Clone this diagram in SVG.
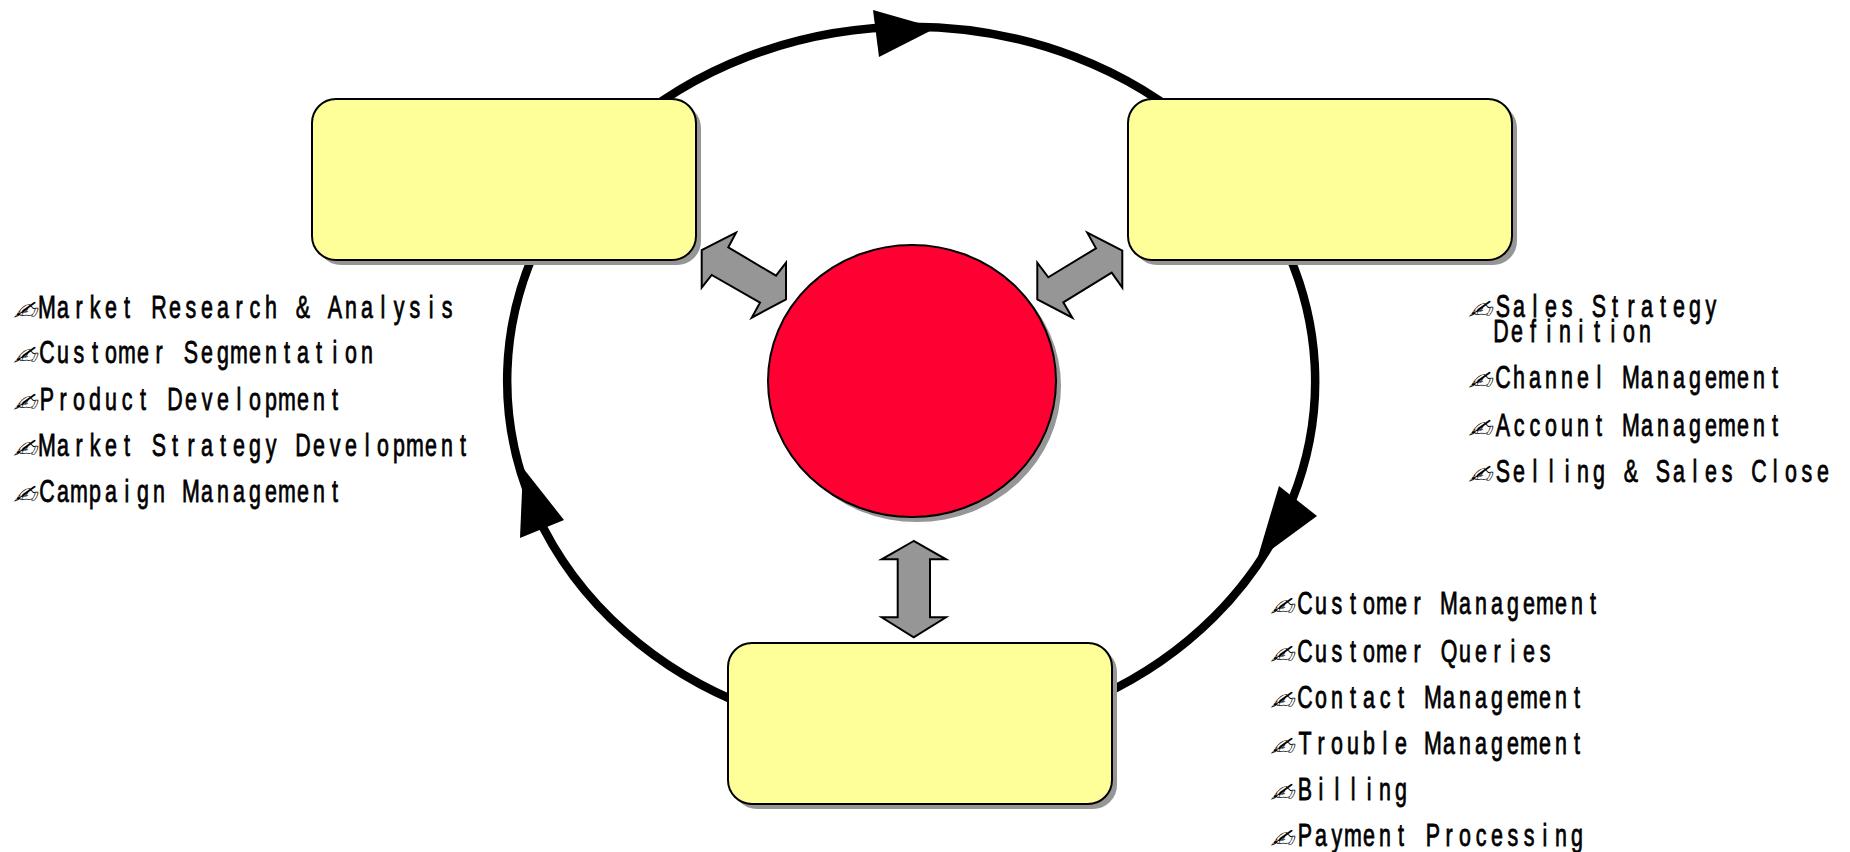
<svg xmlns="http://www.w3.org/2000/svg" width="1850" height="852" viewBox="0 0 1850 852">
<style>
.ring{fill:none;stroke:#000;stroke-width:8.5}
.head{fill:#000}
.box{fill:#FFFF99;stroke:#000;stroke-width:2}
.shadow{fill:#969696}
.dbl{fill:#969696;stroke:#000;stroke-width:2;stroke-linejoin:miter}
.t{font-family:"Liberation Sans",Arial,sans-serif;font-size:31.5px;fill:#000;stroke:#000;stroke-width:.8px;text-anchor:middle}
.i{font-family:"DejaVu Sans",sans-serif;font-size:27px;fill:#000}
</style>
<rect width="1850" height="852" fill="#fff"/>
<g id="connectors">
<path class="ring" d="M620 134A404 350 0 0 1 1202 134"/>
<path class="ring" d="M1282 240A404 356 0 0 1 1100 696"/>
<path class="ring" d="M750 707A404 356 0 0 1 540 240"/>
<polygon class="head" points="873,10 879,57 936,28"/>
<polygon class="head" points="1279,486 1317,516 1257,560"/>
<polygon class="head" points="520,538 564,520 523,468"/>
<polygon class="dbl" points="736,232.7 701.7,250 701.7,287.7 711.7,275 760,302.7 751.7,317.7 786,299.3 786,262.7 776,275.7 728.3,247.3"/>
<polygon class="dbl" points="1087.3,232.7 1122.3,250.7 1122.3,287.7 1111.7,272.7 1063.3,302.3 1072.3,317.7 1037.3,299.3 1037.3,262.7 1048.3,277.3 1096,248.3"/>
<polygon class="dbl" points="913.7,541 881.7,559.3 897.7,559.3 897.7,617.3 881.7,617.3 913.7,637.3 946,617.3 930,617.3 930,559.3 946,559.3"/>
</g>
<g id="node-marketing"><rect class="shadow" x="317" y="104" width="384" height="161" rx="24"/><rect class="box" x="312" y="99" width="384" height="161" rx="24"/></g>
<g id="node-sales"><rect class="shadow" x="1133" y="104" width="384" height="161" rx="24"/><rect class="box" x="1128" y="99" width="384" height="161" rx="24"/></g>
<g id="node-service"><rect class="shadow" x="733" y="648" width="384" height="161" rx="24"/><rect class="box" x="728" y="643" width="384" height="161" rx="24"/></g>
<g id="node-core"><ellipse class="shadow" cx="917" cy="386" rx="144" ry="136"/><ellipse cx="912" cy="381" rx="144" ry="136" fill="#FF0033" stroke="#000" stroke-width="2"/></g>
<g id="list-marketing">
<text class="i" transform="translate(12,320) skewX(-25) scale(1,1)">✍</text><text class="i" transform="translate(12,365) skewX(-25) scale(1,1)">✍</text><text class="i" transform="translate(12,412) skewX(-25) scale(1,1)">✍</text><text class="i" transform="translate(12,458) skewX(-25) scale(1,1)">✍</text><text class="i" transform="translate(12,504) skewX(-25) scale(1,1)">✍</text>
<g transform="translate(39,0) scale(.68,1)">
<text class="t" y="318" x="11.8 35.3 58.8 82.4 105.9 129.4 152.9 176.5 200 223.5 247.1 270.6 294.1 317.6 341.2 364.7 388.2 411.8 435.3 458.8 482.4 505.9 529.4 552.9 576.5 600">Market Research &amp; Analysis</text>
<text class="t" y="363" x="11.8 35.3 58.8 82.4 105.9 129.4 152.9 176.5 200 223.5 247.1 270.6 294.1 317.6 341.2 364.7 388.2 411.8 435.3 458.8 482.4">Customer Segmentation</text>
<text class="t" y="410" x="11.8 35.3 58.8 82.4 105.9 129.4 152.9 176.5 200 223.5 247.1 270.6 294.1 317.6 341.2 364.7 388.2 411.8 435.3">Product Development</text>
<text class="t" y="456" x="11.8 35.3 58.8 82.4 105.9 129.4 152.9 176.5 200 223.5 247.1 270.6 294.1 317.6 341.2 364.7 388.2 411.8 435.3 458.8 482.4 505.9 529.4 552.9 576.5 600 623.5">Market Strategy Development</text>
<text class="t" y="502" x="11.8 35.3 58.8 82.4 105.9 129.4 152.9 176.5 200 223.5 247.1 270.6 294.1 317.6 341.2 364.7 388.2 411.8 435.3">Campaign Management</text>
</g></g>
<g id="list-sales">
<text class="i" transform="translate(1467,319) skewX(-25) scale(1,1)">✍</text><text class="i" transform="translate(1467,390) skewX(-25) scale(1,1)">✍</text><text class="i" transform="translate(1467,438) skewX(-25) scale(1,1)">✍</text><text class="i" transform="translate(1467,484) skewX(-25) scale(1,1)">✍</text>
<g transform="translate(1495,0) scale(.68,1)">
<text class="t" y="317" x="11.8 35.3 58.8 82.4 105.9 129.4 152.9 176.5 200 223.5 247.1 270.6 294.1 317.6">Sales Strategy</text>
<text class="t" y="342" x="8.8 32.3 55.8 79.4 102.9 126.4 149.9 173.5 197 220.5">Definition</text>
<text class="t" y="388" x="11.8 35.3 58.8 82.4 105.9 129.4 152.9 176.5 200 223.5 247.1 270.6 294.1 317.6 341.2 364.7 388.2 411.8">Channel Management</text>
<text class="t" y="436" x="11.8 35.3 58.8 82.4 105.9 129.4 152.9 176.5 200 223.5 247.1 270.6 294.1 317.6 341.2 364.7 388.2 411.8">Account Management</text>
<text class="t" y="482" x="11.8 35.3 58.8 82.4 105.9 129.4 152.9 176.5 200 223.5 247.1 270.6 294.1 317.6 341.2 364.7 388.2 411.8 435.3 458.8 482.4">Selling &amp; Sales Close</text>
</g></g>
<g id="list-service">
<text class="i" transform="translate(1269,616) skewX(-25) scale(1,1)">✍</text><text class="i" transform="translate(1269,664) skewX(-25) scale(1,1)">✍</text><text class="i" transform="translate(1269,710) skewX(-25) scale(1,1)">✍</text><text class="i" transform="translate(1269,756) skewX(-25) scale(1,1)">✍</text><text class="i" transform="translate(1269,802) skewX(-25) scale(1,1)">✍</text><text class="i" transform="translate(1269,848) skewX(-25) scale(1,1)">✍</text>
<g transform="translate(1297,0) scale(.68,1)">
<text class="t" y="614" x="11.8 35.3 58.8 82.4 105.9 129.4 152.9 176.5 200 223.5 247.1 270.6 294.1 317.6 341.2 364.7 388.2 411.8 435.3">Customer Management</text>
<text class="t" y="662" x="11.8 35.3 58.8 82.4 105.9 129.4 152.9 176.5 200 223.5 247.1 270.6 294.1 317.6 341.2 364.7">Customer Queries</text>
<text class="t" y="708" x="11.8 35.3 58.8 82.4 105.9 129.4 152.9 176.5 200 223.5 247.1 270.6 294.1 317.6 341.2 364.7 388.2 411.8">Contact Management</text>
<text class="t" y="754" x="11.8 35.3 58.8 82.4 105.9 129.4 152.9 176.5 200 223.5 247.1 270.6 294.1 317.6 341.2 364.7 388.2 411.8">Trouble Management</text>
<text class="t" y="800" x="11.8 35.3 58.8 82.4 105.9 129.4 152.9">Billing</text>
<text class="t" y="846" x="11.8 35.3 58.8 82.4 105.9 129.4 152.9 176.5 200 223.5 247.1 270.6 294.1 317.6 341.2 364.7 388.2 411.8">Payment Processing</text>
</g></g>
</svg>
